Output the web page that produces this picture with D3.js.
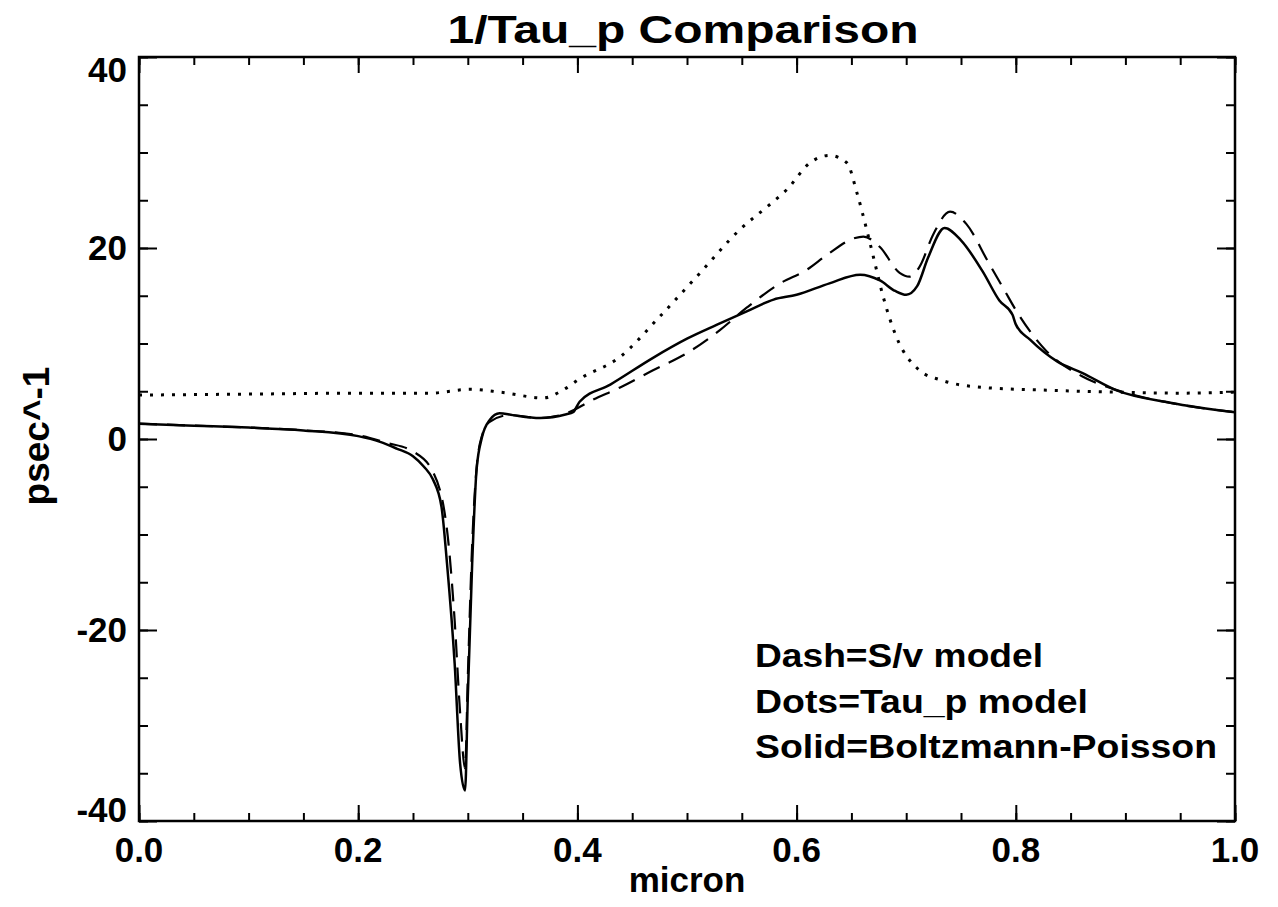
<!DOCTYPE html>
<html>
<head>
<meta charset="utf-8">
<title>1/Tau_p Comparison</title>
<script src="https://d3js.org/d3.v7.min.js"></script>
<style>
  html, body { margin: 0; padding: 0; background: #fff; overflow: hidden; }
  svg { display: block; }
  text { font-family: "Liberation Sans", Arial, Helvetica, sans-serif; font-weight: bold; fill: #000; }
</style>
</head>
<body>
<div id="chart"></div>
<script>
// Data (x in micron, y in psec^-1)
const solidX = [0, 0.05, 0.1, 0.15, 0.2, 0.22, 0.235, 0.25, 0.26, 0.268, 0.276, 0.281, 0.288, 0.293, 0.2975, 0.300, 0.304, 0.308, 0.313, 0.320, 0.329, 0.341, 0.366, 0.39, 0.396, 0.402, 0.43, 0.469, 0.50, 0.53, 0.555, 0.579, 0.600, 0.63, 0.658, 0.676, 0.69, 0.70, 0.71, 0.72, 0.735, 0.75, 0.77, 0.785, 0.797, 0.80, 0.813, 0.838, 0.861, 0.892, 0.941, 1.0];
const solidY = [1.6, 1.4, 1.2, 0.9, 0.3, -0.3, -1.0, -1.8, -2.9, -4.2, -7.1, -13, -23.5, -34, -36.8, -27, -13, -3.2, 0.2, 2.0, 2.7, 2.5, 2.2, 2.6, 2.8, 3.9, 5.7, 8.5, 10.5, 12.1, 13.4, 14.6, 15.1, 16.3, 17.2, 16.6, 15.5, 15.1, 16.0, 19.0, 22.1, 20.8, 17.5, 14.5, 13.0, 12.0, 10.4, 8.1, 6.9, 5.1, 3.8, 2.8];

const dashX = [0, 0.05, 0.1, 0.15, 0.2, 0.226, 0.25, 0.268, 0.281, 0.288, 0.293, 0.2975, 0.300, 0.304, 0.311, 0.320, 0.338, 0.366, 0.39, 0.414, 0.439, 0.469, 0.5, 0.53, 0.555, 0.585, 0.609, 0.628, 0.652, 0.661, 0.676, 0.694, 0.703, 0.712, 0.725, 0.74, 0.755, 0.775, 0.79, 0.80, 0.828, 0.86, 0.89, 0.94, 1.0];
const dashY = [1.6, 1.4, 1.2, 0.9, 0.4, -0.4, -1.3, -3.4, -9.5, -19, -28.7, -34.5, -25, -11, -0.5, 1.8, 2.5, 2.2, 2.7, 4.1, 5.4, 7.2, 9.0, 11.4, 13.8, 16.3, 17.7, 19.3, 21.0, 21.2, 20.1, 17.4, 17.0, 18.0, 21.5, 23.8, 22.5, 18.5, 15.5, 13.5, 9.2, 6.6, 5.2, 3.8, 2.8];

const dotX = [0, 0.1, 0.2, 0.265, 0.302, 0.33, 0.369, 0.385, 0.402, 0.439, 0.475, 0.512, 0.548, 0.575, 0.591, 0.612, 0.630, 0.646, 0.655, 0.664, 0.670, 0.679, 0.691, 0.712, 0.731, 0.77, 0.831, 0.892, 0.95, 1.0];
const dotY = [4.6, 4.7, 4.8, 4.8, 5.2, 4.9, 4.3, 5.0, 6.3, 8.6, 12.8, 17.4, 21.9, 24.5, 26.1, 28.9, 29.7, 28.9, 25.8, 21.9, 19.1, 14.9, 10.7, 7.2, 6.2, 5.4, 5.1, 4.9, 4.8, 4.9];

const xTicks = [0, 0.2, 0.4, 0.6, 0.8, 1.0];
const yTicks = [-40, -20, 0, 20, 40];
const legendLines = ["Dash=S/v model", "Dots=Tau_p model", "Solid=Boltzmann-Poisson"];

// Dimensions
const width = 1278, height = 907;
const margin = { top: 57, right: 43, bottom: 86, left: 139 };
const innerWidth = width - margin.left - margin.right;
const innerHeight = height - margin.top - margin.bottom;

const svg = d3.select("#chart").append("svg")
    .attr("width", width)
    .attr("height", height);

const bounds = svg.append("g")
    .attr("transform", `translate(${margin.left}, ${margin.top})`);

// Scales
const x = d3.scaleLinear().domain([0, 1]).range([0, innerWidth]);
const y = d3.scaleLinear().domain([-40, 40]).range([innerHeight, 0]);

const xMinor = d3.range(0, 1.0001, 0.05).map(d => +d.toFixed(2));
const yMinor = d3.range(-40, 40.001, 5);

// Ticks pointing inward on all four sides
function tickAxis(axisFn, scale, values, size, transform) {
    const g = bounds.append("g")
        .attr("transform", transform)
        .call(axisFn(scale).tickValues(values).tickSize(size).tickFormat(""));
    g.select(".domain").remove();
    g.selectAll("text").remove();
    g.selectAll(".tick line").attr("stroke", "#000").attr("stroke-width", 2);
}
tickAxis(d3.axisBottom, x, xMinor, -8, `translate(0, ${innerHeight})`);
tickAxis(d3.axisBottom, x, xTicks, -16, `translate(0, ${innerHeight})`);
tickAxis(d3.axisTop, x, xMinor, -8, "translate(0, 0)");
tickAxis(d3.axisTop, x, xTicks, -16, "translate(0, 0)");
tickAxis(d3.axisLeft, y, yMinor, -9, "translate(0, 0)");
tickAxis(d3.axisLeft, y, yTicks, -18, "translate(0, 0)");
tickAxis(d3.axisRight, y, yMinor, -9, `translate(${innerWidth}, 0)`);
tickAxis(d3.axisRight, y, yTicks, -18, `translate(${innerWidth}, 0)`);

// Frame
bounds.append("rect")
    .attr("width", innerWidth)
    .attr("height", innerHeight)
    .attr("fill", "none")
    .attr("stroke", "#000")
    .attr("stroke-width", 2.5);

// Tick labels
bounds.selectAll(".xlab")
    .data(xTicks)
    .join("text")
    .attr("class", "xlab")
    .attr("x", d => x(d))
    .attr("y", innerHeight + 41)
    .attr("text-anchor", "middle")
    .attr("font-size", 35)
    .text(d => d.toFixed(1));

bounds.selectAll(".ylab")
    .data(yTicks)
    .join("text")
    .attr("class", "ylab")
    .attr("x", -12)
    .attr("y", d => Math.max(25, Math.min(innerHeight + 1, y(d) + 12)))
    .attr("text-anchor", "end")
    .attr("font-size", 35)
    .text(d => d);

// Titles
svg.append("text")
    .attr("x", 683)
    .attr("y", 43)
    .attr("text-anchor", "middle")
    .attr("font-size", 39)
    .attr("textLength", 471)
    .attr("lengthAdjust", "spacingAndGlyphs")
    .text("1/Tau_p Comparison");

svg.append("text")
    .attr("x", margin.left + innerWidth / 2)
    .attr("y", 892)
    .attr("text-anchor", "middle")
    .attr("font-size", 35)
    .text("micron");

svg.append("text")
    .attr("transform", "translate(49, 436) rotate(-90)")
    .attr("text-anchor", "middle")
    .attr("font-size", 37)
    .text("psec^-1");

// Lines
const line = d3.line()
    .x(d => x(d[0]))
    .y(d => y(d[1]))
    .curve(d3.curveMonotoneX);

const series = [
    { xs: dotX, ys: dotY, dash: "3,8", width: 3 },
    { xs: dashX, ys: dashY, dash: "18,10", width: 2.2 },
    { xs: solidX, ys: solidY, dash: null, width: 2.5 }
];

bounds.append("g")
    .selectAll("path")
    .data(series)
    .join("path")
    .attr("d", s => line(d3.zip(s.xs, s.ys)))
    .attr("fill", "none")
    .attr("stroke", "#000")
    .attr("stroke-width", s => s.width)
    .attr("stroke-dasharray", s => s.dash);

// Legend text
const legendW = [288, 333, 462];
svg.selectAll(".legend")
    .data(legendLines)
    .join("text")
    .attr("class", "legend")
    .attr("x", 755)
    .attr("y", (d, i) => 667 + i * 45.5)
    .attr("font-size", 33)
    .attr("textLength", (d, i) => legendW[i])
    .attr("lengthAdjust", "spacingAndGlyphs")
    .text(d => d);
</script>
</body>
</html>
